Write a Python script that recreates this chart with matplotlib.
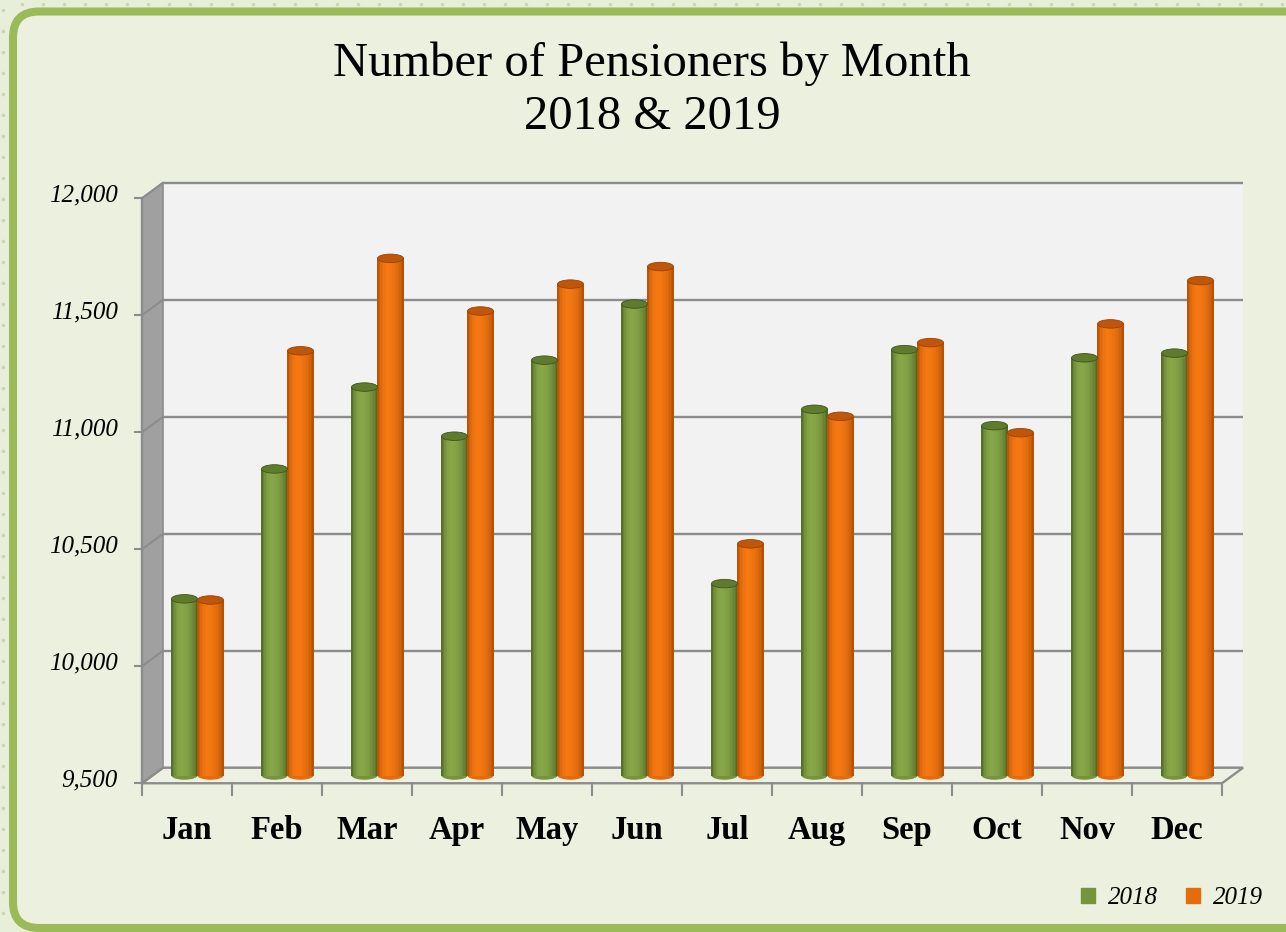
import matplotlib
matplotlib.use('Agg')
import matplotlib.pyplot as plt
import numpy as np
from matplotlib.patches import Rectangle, Polygon, Ellipse, FancyBboxPatch, Patch
from matplotlib.transforms import IdentityTransform

# data
months = ['Jan', 'Feb', 'Mar', 'Apr', 'May', 'Jun', 'Jul', 'Aug', 'Sep', 'Oct', 'Nov', 'Dec']
pens_2018 = [10255, 10810, 11160, 10950, 11275, 11515, 10320, 11065, 11320, 10995, 11285, 11305]
pens_2019 = [10250, 11315, 11710, 11485, 11600, 11675, 10490, 11035, 11350, 10965, 11430, 11615]
yticks = [9500, 10000, 10500, 11000, 11500, 12000]
ytick_labels = ['9,500', '10,000', '10,500', '11,000', '11,500', '12,000']
series = ['2018', '2019']

plt.rcParams['font.family'] = ['Liberation Serif', 'DejaVu Serif']

W, H = 1286, 932
fig = plt.figure(figsize=(W / 100, H / 100), dpi=100, facecolor='#E7EFDA')

# dotted outer background (just texture)
dots_y = np.arange(H - 10, 0, -21)
dots_x = np.arange(22, W, 21)
fig.add_artist(plt.Line2D(np.full(len(dots_y), 3), dots_y, ls='none', marker='o', ms=1.6,
                          color='#C9D8B2', transform=IdentityTransform(), zorder=-3))
fig.add_artist(plt.Line2D(dots_x, np.full(len(dots_x), H - 4), ls='none', marker='o', ms=1.6,
                          color='#C9D8B2', transform=IdentityTransform(), zorder=-3))

# rounded green panel
panel = FancyBboxPatch((13, 4), 1330, 916.5, boxstyle='round,pad=0,rounding_size=26',
                       transform=IdentityTransform(), fc='#EBF0DF', ec='#9BBB59', lw=5.8, zorder=-2)
fig.add_artist(panel)

fig.text(652 / W, 1 - 90 / H, 'Number of Pensioners by Month\n2018 & 2019', ha='center', va='center',
         fontsize=35, color='black', linespacing=1.27)

# axes = middle depth plane of the 3d box
ax = fig.add_axes([152.5 / W, 1 - 775.5 / H, 1080 / W, 585 / H])
ax.set_xlim(-0.5, 11.5)
ax.set_ylim(9500, 12000)
ax.axis('off')

pxx = 1080 / 12.0      # pixels per category
pxy = 585 / 2500.0     # pixels per value unit
DX = 10.5 / pxx        # half depth offset
DY = 7.75 / pxy
grid_c = '#8C8C8C'

# back wall + gridlines
ax.add_patch(Rectangle((-0.5 + DX, 9500 + DY), 12, 2500, fc='#F2F2F2', ec='none', zorder=0, clip_on=False))
for v in yticks:
    ax.plot([-0.5 + DX, 11.5 + DX], [v + DY, v + DY], color=grid_c, lw=1.7, zorder=1,
            clip_on=False, solid_capstyle='butt')

# left side wall
ax.add_patch(Polygon([(-0.5 - DX, 9500 - DY), (-0.5 - DX, 12000 - DY), (-0.5 + DX, 12000 + DY),
                      (-0.5 + DX, 9500 + DY)], closed=True, fc='#A0A0A0', ec=grid_c, lw=1.2,
                     zorder=1, clip_on=False))
for v in yticks:
    ax.plot([-0.5 - DX, -0.5 + DX], [v - DY, v + DY], color=grid_c, lw=1.5, zorder=1.5, clip_on=False)
    ax.plot([-0.5 - DX - 7 / pxx, -0.5 - DX], [v - DY, v - DY], color=grid_c, lw=1.5, zorder=1.5, clip_on=False)
ax.plot([-0.5 - DX, -0.5 - DX], [9500 - DY, 12000 - DY], color=grid_c, lw=1.7, zorder=1.5, clip_on=False)

# floor
ax.add_patch(Polygon([(-0.5 - DX, 9500 - DY), (11.5 - DX, 9500 - DY), (11.5 + DX, 9500 + DY),
                      (-0.5 + DX, 9500 + DY)], closed=True, fc='#EDF1E3', ec=grid_c, lw=1.7,
                     zorder=1.2, clip_on=False))
for k in range(13):
    ax.plot([k - 0.5 - DX, k - 0.5 - DX], [9500 - DY, 9500 - DY - 12 / pxy], color=grid_c, lw=1.5,
            zorder=1.5, clip_on=False)

# cylinder bars
bw = 26 / pxx
nstrip = 18
shade = {
    '2018': (np.array([0.27, 0.37, 0.12]), np.array([0.53, 0.65, 0.28]), '#5F7B2C', '#77933C'),
    '2019': (np.array([0.66, 0.29, 0.01]), np.array([0.96, 0.47, 0.07]), '#C0560A', '#E46C0A'),
}
x = np.arange(len(months))
for name, vals, off in [('2018', pens_2018, -bw / 2), ('2019', pens_2019, bw / 2)]:
    dark, light, topc, midc = shade[name]
    vals = np.array(vals)
    eh = 8.5 / pxy
    ax.bar(x + off, vals - 9500, bottom=9500, width=bw, color=midc, lw=0, zorder=2)
    for s in range(nstrip):
        t = (s + 0.5) / nstrip
        if t < 0.38:
            f = 1 - ((0.38 - t) / 0.38) ** 2
        else:
            f = 1 - ((t - 0.38) / 0.62) ** 2
        f = max(f, 0) ** 0.7
        col = dark + (light - dark) * f
        xs = x + off - bw / 2 + (s + 0.5) * bw / nstrip
        ax.bar(xs, vals - 9500, bottom=9500, width=bw / nstrip * 1.05, color=col, lw=0, zorder=3)
    for i, v in enumerate(vals):
        ax.add_patch(Ellipse((x[i] + off, 9500), bw, eh, fc=midc, ec='none', zorder=2.5, clip_on=False))
        ax.add_patch(Ellipse((x[i] + off, v), bw, eh, fc=topc, ec=dark * 0.9, lw=0.6, zorder=4, clip_on=False))

# labels
for i, m in enumerate(months):
    ax.annotate(m, (i - DX, 9500 - DY), xytext=(0, -47 * 0.72), textcoords='offset points',
                ha='center', va='center', fontsize=23.5, fontweight='bold', annotation_clip=False)
for v, lab in zip(yticks, ytick_labels):
    ax.annotate(lab, (-0.5 - DX, v - DY), xytext=(-24 * 0.72, 3 * 0.72), textcoords='offset points',
                ha='right', va='center', fontsize=18, fontstyle='italic', annotation_clip=False)

handles = [Patch(color='#77933C'), Patch(color='#E46C0A')]
fig.legend(handles, series, loc='center', bbox_to_anchor=(1172 / W, 1 - 898 / H), ncol=2, frameon=False,
           handlelength=0.55, handleheight=0.55, handletextpad=0.55, columnspacing=1.1,
           prop={'style': 'italic', 'size': 18})

fig.savefig('out.png', dpi=100, facecolor=fig.get_facecolor())
